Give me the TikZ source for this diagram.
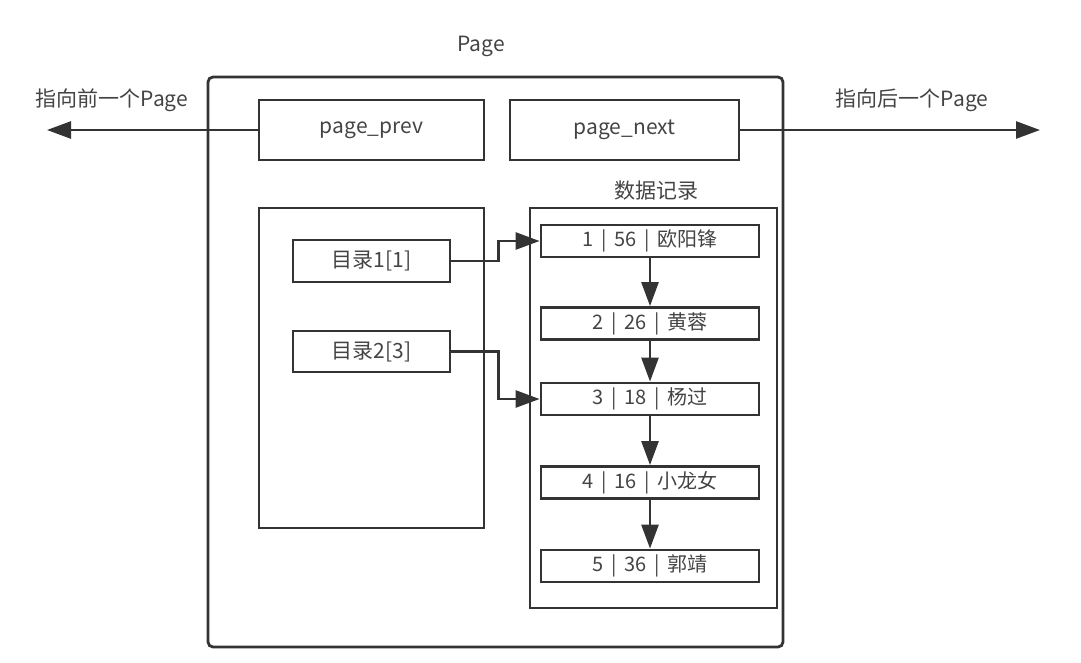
\documentclass[tikz,border=0pt]{standalone}
\usepackage{fontspec}
\setmainfont{Noto Sans CJK SC}
\usepackage{tikz}
\usetikzlibrary{arrows.meta}
\definecolor{ink}{HTML}{333333}
\definecolor{txt}{HTML}{444444}

\begin{document}
\begin{tikzpicture}[x=1pt, y=-1pt, >={Triangle[length=24pt,width=17pt]},
	every node/.style={inner sep=0pt, font=\fontsize{21}{24}\selectfont, text=txt},
	box/.style={rectangle, draw=ink, line width=2.8pt},
	record/.style={box, minimum width=218pt, minimum height=32pt, font=\fontsize{20}{24}\selectfont},
	link/.style={draw=ink, line width=2.6pt}]
	\useasboundingbox (0,0) rectangle (1081,662);
	%Page
	\node [box, rounded corners=5pt, minimum width=575pt, minimum height=570pt] (page) at (495.5,362) {};
	\node (pagelabel) at (481,46) {Page};
	%Pointers
	\node [box, minimum width=225pt, minimum height=60pt] (prev) at (371.5,130) {page\_prev};
	\node [box, minimum width=229pt, minimum height=60pt] (next) at (624.5,130) {page\_next};
	\coordinate (prevend) at (47,130);
	\coordinate (nextend) at (1040,130);
	\draw[link,->] (prev) -- (prevend);
	\draw[link,->] (next) -- (nextend);
	\node (prevlabel) at (112,100) {指向前一个Page};
	\node (nextlabel) at (912,100) {指向后一个Page};
	%Directory
	\node [box, minimum width=225pt, minimum height=320pt] (dir) at (371.5,368) {};
	\node [box, minimum width=157pt, minimum height=42pt] (dir1) at (371.5,261) {目录1[1]};
	\node [box, minimum width=157pt, minimum height=41pt] (dir2) at (371.5,351.5) {目录2[3]};
	%Records
	\node [box, minimum width=247pt, minimum height=400pt] (data) at (653.5,408) {};
	\node (datalabel) at (656,191) {数据记录};
	\node [record] (rec1) at (650,241) {1 \,|\, 56 \,|\, 欧阳锋};
	\node [record] (rec2) at (650,323.5) {2 \,|\, 26 \,|\, 黄蓉};
	\node [record] (rec3) at (650,399) {3 \,|\, 18 \,|\, 杨过};
	\node [record] (rec4) at (650,482.5) {4 \,|\, 16 \,|\, 小龙女};
	\node [record] (rec5) at (650,566) {5 \,|\, 36 \,|\, 郭靖};
	\draw[link,->] (rec1) -- (rec2);
	\draw[link,->] (rec2) -- (rec3);
	\draw[link,->] (rec3) -- (rec4);
	\draw[link,->] (rec4) -- (rec5);
	\draw[link,->] (dir1.east) -- ++(47,0) |- (rec1.west);
	\draw[link,->] (dir2.east) -- ++(47,0) |- (rec3.west);
\end{tikzpicture}
\end{document}
